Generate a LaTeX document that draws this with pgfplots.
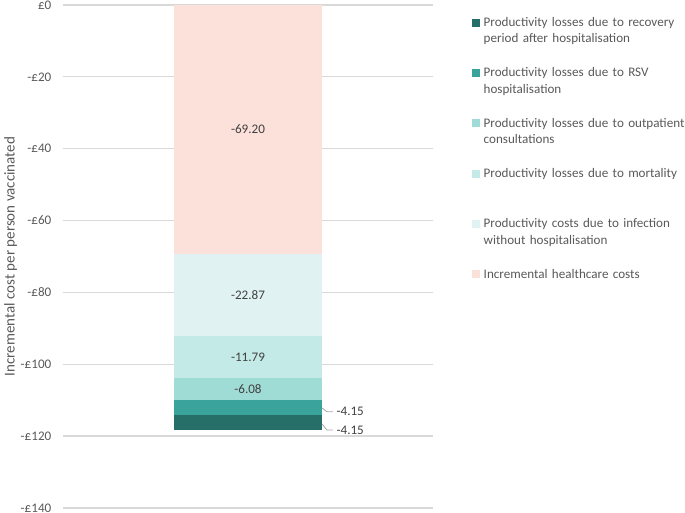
\documentclass[border=0pt]{standalone}
\usepackage{pgfplots}
\pgfplotsset{compat=1.18}
\usepackage{fontspec}
\setmainfont{Carlito}

\definecolor{cHealth}{HTML}{FCE0DA}
\definecolor{cInfect}{HTML}{E0F3F2}
\definecolor{cMort}{HTML}{C3EAE6}
\definecolor{cOutp}{HTML}{A0DCD6}
\definecolor{cHosp}{HTML}{3AA39B}
\definecolor{cRecov}{HTML}{256F68}
\definecolor{txtgray}{HTML}{595959}
\definecolor{lblgray}{HTML}{404040}
\definecolor{gridgray}{HTML}{D9D9D9}
\definecolor{leadgray}{HTML}{A6A6A6}

\pgfplotsset{
  base/.style={
    scale only axis,
    width=370pt, height=503pt,
    xmin=-1, xmax=1,
    ymin=-140, ymax=0,
    clip=false,
  },
}

\begin{document}
\begin{tikzpicture}[font=\fontsize{13.1}{16.3}\selectfont]
  \useasboundingbox (-63pt,-5pt) rectangle (622pt,508pt);
  \begin{axis}[
      base,
      ybar stacked,
      bar width=148pt,
      xtick=\empty,
      ytick={-140,-120,...,0},
      yticklabels={-£140,-£120,-£100,-£80,-£60,-£40,-£20,£0},
      yticklabel style={anchor=east, inner sep=0pt, xshift=-11.5pt, text=txtgray},
      major tick length=0pt,
      axis line style={draw=none},
      ymajorgrids,
      grid style={gridgray, line width=1.3pt},
      ylabel={Incremental cost per person vaccinated},
      ylabel style={at={(axis description cs:-0.1235,0.5)}, anchor=south,
        inner sep=0pt, text=txtgray, font=\fontsize{15}{18}\selectfont},
      reverse legend,
      legend image code/.code={\fill[#1] (0pt,0pt) rectangle (8pt,8pt);},
      legend style={at={(1.10541,0.97714)}, anchor=north west, draw=none,
        fill=none, inner sep=0pt, row sep=0pt, column sep=3.5pt,
        cells={anchor=base west},
        nodes={text width=215pt, align=left, text height=10pt,
          text depth=40.3pt, inner sep=0pt, text=txtgray}},
    ]
    \addplot[fill=cHealth, draw=none] coordinates {(0,-69.20)};
    \addlegendentry{Incremental healthcare costs}
    \addplot[fill=cInfect, draw=none] coordinates {(0,-22.87)};
    \addlegendentry{Productivity costs due to infection\\without hospitalisation}
    \addplot[fill=cMort, draw=none] coordinates {(0,-11.79)};
    \addlegendentry{Productivity losses due to mortality}
    \addplot[fill=cOutp, draw=none] coordinates {(0,-6.08)};
    \addlegendentry{Productivity losses due to outpatient\\consultations}
    \addplot[fill=cHosp, draw=none] coordinates {(0,-4.15)};
    \addlegendentry{Productivity losses due to RSV\\hospitalisation}
    \addplot[fill=cRecov, draw=none] coordinates {(0,-4.15)};
    \addlegendentry{Productivity losses due to recovery\\period after hospitalisation}
  \end{axis}

  % labels and leader lines
  \begin{axis}[base, hide axis]
    \addplot[draw=none, mark=none, nodes near coords,
      point meta=explicit symbolic,
      nodes near coords style={anchor=center, inner sep=0pt, text=lblgray}]
      coordinates {(0,-34.6)[-69.20] (0,-80.635)[-22.87]
                   (0,-97.965)[-11.79] (0,-106.9)[-6.08]};
    \addplot[draw=none, mark=none, nodes near coords,
      point meta=explicit symbolic,
      nodes near coords style={anchor=west, inner sep=0pt, text=lblgray}]
      coordinates {(0.478,-113.2)[-4.15] (0.478,-118.3)[-4.15]};
    \addplot[leadgray, line width=0.8pt] coordinates {(0.4,-112.16) (0.427,-113.2) (0.459,-113.2)};
    \addplot[leadgray, line width=0.8pt] coordinates {(0.4,-116.6) (0.427,-118.3) (0.459,-118.3)};
  \end{axis}
\end{tikzpicture}
\end{document}
